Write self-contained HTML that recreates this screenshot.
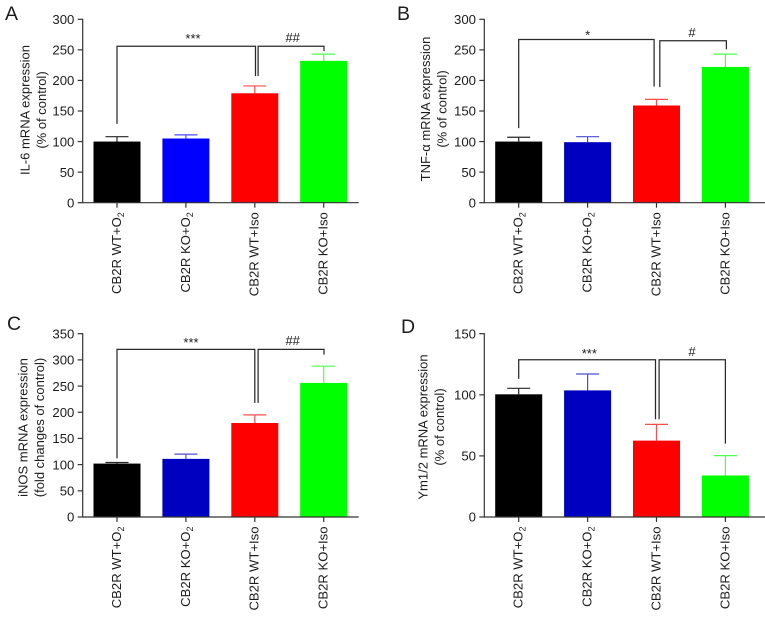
<!DOCTYPE html>
<html lang="en">
<head>
<meta charset="utf-8">
<title>mRNA expression bar charts</title>
<style>
html,body{margin:0;padding:0;background:#fff}
#figure{display:block;width:765px;height:617px}
text{font-family:"Liberation Sans",sans-serif;fill:#1c1c1c}
</style>
</head>
<body>
<svg id="figure" xmlns="http://www.w3.org/2000/svg" width="765" height="617" viewBox="0 0 765 617"></svg>
<script>
// Shared categories
const categories = ["CB2R WT+O|2", "CB2R KO+O|2", "CB2R WT+Iso", "CB2R KO+Iso"];

// Panel A
const aValues = [100, 105, 179, 232];
const aErrorTops = [108, 111, 191, 243];
const aTicks = [0, 50, 100, 150, 200, 250, 300];
const aTitles = ["IL-6 mRNA expression", "(% of control)"];
const aColors = ["#000000", "#0000ff", "#ff0000", "#00ff00"];
const aBracketLevels = [256, 256];
const aBracketDrops = [129, 207, 207, 248];
const aMarks = ["***", "##"];

// Panel B
const bValues = [100, 99, 159, 222];
const bErrorTops = [107, 108, 169, 243];
const bTicks = [0, 50, 100, 150, 200, 250, 300];
const bTitles = ["TNF-\u03B1 mRNA expression", "(% of control)"];
const bColors = ["#000000", "#0000c0", "#ff0000", "#00ff00"];
const bBracketLevels = [267, 265];
const bBracketDrops = [122, 190, 189, 251];
const bMarks = ["*", "#"];

// Panel C
const cValues = [102, 111, 179.5, 256];
const cErrorTops = [104, 120, 195, 288];
const cTicks = [0, 50, 100, 150, 200, 250, 300, 350];
const cTitles = ["iNOS mRNA expression", "(fold changes of control)"];
const cColors = ["#000000", "#0000c0", "#ff0000", "#00ff00"];
const cBracketLevels = [320, 320];
const cBracketDrops = [112, 218, 218, 310];
const cMarks = ["***", "##"];

// Panel D
const dValues = [100.4, 103.6, 62.5, 34];
const dErrorTops = [105.3, 117, 75.8, 50.2];
const dTicks = [0, 50, 100, 150];
const dTitles = ["Ym1/2 mRNA expression", "(% of control)"];
const dColors = ["#000000", "#0000c0", "#ff0000", "#00ff00"];
const dBracketLevels = [128.7, 128.7];
const dBracketDrops = [113, 80, 80, 60];
const dMarks = ["***", "#"];

const NS = "http://www.w3.org/2000/svg";
const root = document.getElementById("figure");

function make(parent, tag, attrs, text) {
  const el = document.createElementNS(NS, tag);
  for (const k in attrs) el.setAttribute(k, attrs[k]);
  if (text !== undefined) el.textContent = text;
  parent.appendChild(el);
  return el;
}

function drawPanel(p) {
  const g = make(root, "g", {});
  
  

  const maxTick = p.ticks[p.ticks.length - 1];
  const yScale = v => p.y0 - (v / maxTick) * (p.y0 - p.yTop);
  const xScale = i => p.x0 + p.first + i * p.step;

  const letter = make(g, "text", {x: p.letterX, y: p.letterY, "font-size": 19.5}, p.letter);
  
  

  // bars and error bars
  p.values.forEach((v, i) => {
    const cx = xScale(i);
    const color = p.colors[i];
    const err = make(g, "path", {
      d: "M" + cx + " " + yScale(v) + "V" + yScale(p.errorTops[i]) + "M" + (cx - 11.5) + " " + yScale(p.errorTops[i]) + "H" + (cx + 11.5),
      stroke: color, "stroke-width": 1.2, fill: "none", "stroke-opacity": color === "#000000" ? 0.85 : 0.7
    });
    
    
    const bar = make(g, "rect", {x: cx - 23.5, y: yScale(v), width: 47, height: p.y0 - yScale(v), fill: color});
    
    
  });

  // axes
  const yAxis = make(g, "line", {x1: p.x0, x2: p.x0, y1: p.yTop - 0.6, y2: p.y0 + 0.6, stroke: "#333", "stroke-width": 1.2});
  
  
  const xAxis = make(g, "line", {x1: p.x0, x2: p.xEnd, y1: p.y0, y2: p.y0, stroke: "#333", "stroke-width": 1.2});
  
  

  // y ticks
  p.ticks.forEach(t => {
    const y = yScale(t);
    const tick = make(g, "line", {x1: p.x0 - 5, x2: p.x0, y1: y, y2: y, stroke: "#333", "stroke-width": 1.2});
    
    
    const label = make(g, "text", {x: p.x0 - 8.3, y: y + 4.7, "font-size": 13.2, "text-anchor": "end"}, String(t));
    
    
  });

  // x ticks and labels
  categories.forEach((c, i) => {
    const cx = xScale(i);
    const tick = make(g, "line", {x1: cx, x2: cx, y1: p.y0, y2: p.y0 + 5, stroke: "#333", "stroke-width": 1.2});
    
    
    const parts = c.split("|");
    const label = make(g, "text", {
      transform: "translate(" + (cx + 3.9) + " " + (p.y0 + 9.5) + ") rotate(-90)",
      "font-size": 13.1, "text-anchor": "end"
    }, parts[0]);
    
    
    if (parts[1]) {
      const sub = make(label, "tspan", {dy: 3, "font-size": 9}, parts[1]);
      
      
    }
  });

  // y title
  p.titles.forEach((t, i) => {
    const title = make(g, "text", {
      transform: "translate(" + (p.titleX + i * p.titleGap) + " " + p.titleY + ") rotate(-90)",
      "font-size": 13, "text-anchor": "middle"
    }, t);
    
    
  });

  // significance brackets
  const x0 = xScale(0), x2L = xScale(2) + p.innerL, x2R = xScale(2) + p.innerR, x3 = xScale(3) + p.outerR;
  const leftB = make(g, "path", {
    d: "M" + x0 + " " + yScale(p.drops[0]) + "V" + yScale(p.levels[0]) + "H" + x2L + "V" + yScale(p.drops[1]),
    fill: "none", stroke: "#2a2a2a", "stroke-width": 1.25
  });
  
  
  const rightB = make(g, "path", {
    d: "M" + x2R + " " + yScale(p.drops[2]) + "V" + yScale(p.levels[1]) + "H" + x3 + "V" + yScale(p.drops[3]),
    fill: "none", stroke: "#2a2a2a", "stroke-width": 1.25
  });
  
  

  const m1 = make(g, "text", {x: p.mark1X, y: p.mark1Y, "font-size": 13, "text-anchor": "middle"}, p.marks[0]);
  
  
  const m2 = make(g, "text", {x: p.mark2X, y: p.mark2Y, "font-size": 13, "text-anchor": "middle"}, p.marks[1]);
  
  
}

drawPanel({letter: "A", letterX: 5, letterY: 20, values: aValues, errorTops: aErrorTops, ticks: aTicks, titles: aTitles, colors: aColors,
  levels: aBracketLevels, drops: aBracketDrops, marks: aMarks, x0: 82.7, xEnd: 358.7, yTop: 19.3, y0: 202.7, first: 34.3, step: 68.9,
  titleX: 29.5, titleGap: 16.5, titleY: 110, innerL: 0.7, innerR: 3.3, outerR: 0.3, mark1X: 193, mark1Y: 43, mark2X: 292.7, mark2Y: 42});
drawPanel({letter: "B", letterX: 397, letterY: 20, values: bValues, errorTops: bErrorTops, ticks: bTicks, titles: bTitles, colors: bColors,
  levels: bBracketLevels, drops: bBracketDrops, marks: bMarks, x0: 484.3, xEnd: 765, yTop: 19.3, y0: 202.7, first: 34.4, step: 68.9,
  titleX: 430, titleGap: 16.5, titleY: 109, innerL: -2.4, innerR: 3.3, outerR: 1, mark1X: 587.7, mark1Y: 39.5, mark2X: 692, mark2Y: 37});
drawPanel({letter: "C", letterX: 7, letterY: 330, values: cValues, errorTops: cErrorTops, ticks: cTicks, titles: cTitles, colors: cColors,
  levels: cBracketLevels, drops: cBracketDrops, marks: cMarks, x0: 82.7, xEnd: 358.7, yTop: 333.7, y0: 517, first: 34.3, step: 68.9,
  titleX: 27.5, titleGap: 16.5, titleY: 427.5, innerL: 0, innerR: 3.3, outerR: 0.3, mark1X: 191, mark1Y: 347, mark2X: 292.7, mark2Y: 345});
drawPanel({letter: "D", letterX: 401, letterY: 333, values: dValues, errorTops: dErrorTops, ticks: dTicks, titles: dTitles, colors: dColors,
  levels: dBracketLevels, drops: dBracketDrops, marks: dMarks, x0: 484.3, xEnd: 765, yTop: 333.7, y0: 517, first: 34.4, step: 68.9,
  titleX: 427.5, titleGap: 16.5, titleY: 427, innerL: -1, innerR: 2.6, outerR: 0, mark1X: 589.3, mark1Y: 358, mark2X: 692, mark2Y: 356});
</script>
</body>
</html>
